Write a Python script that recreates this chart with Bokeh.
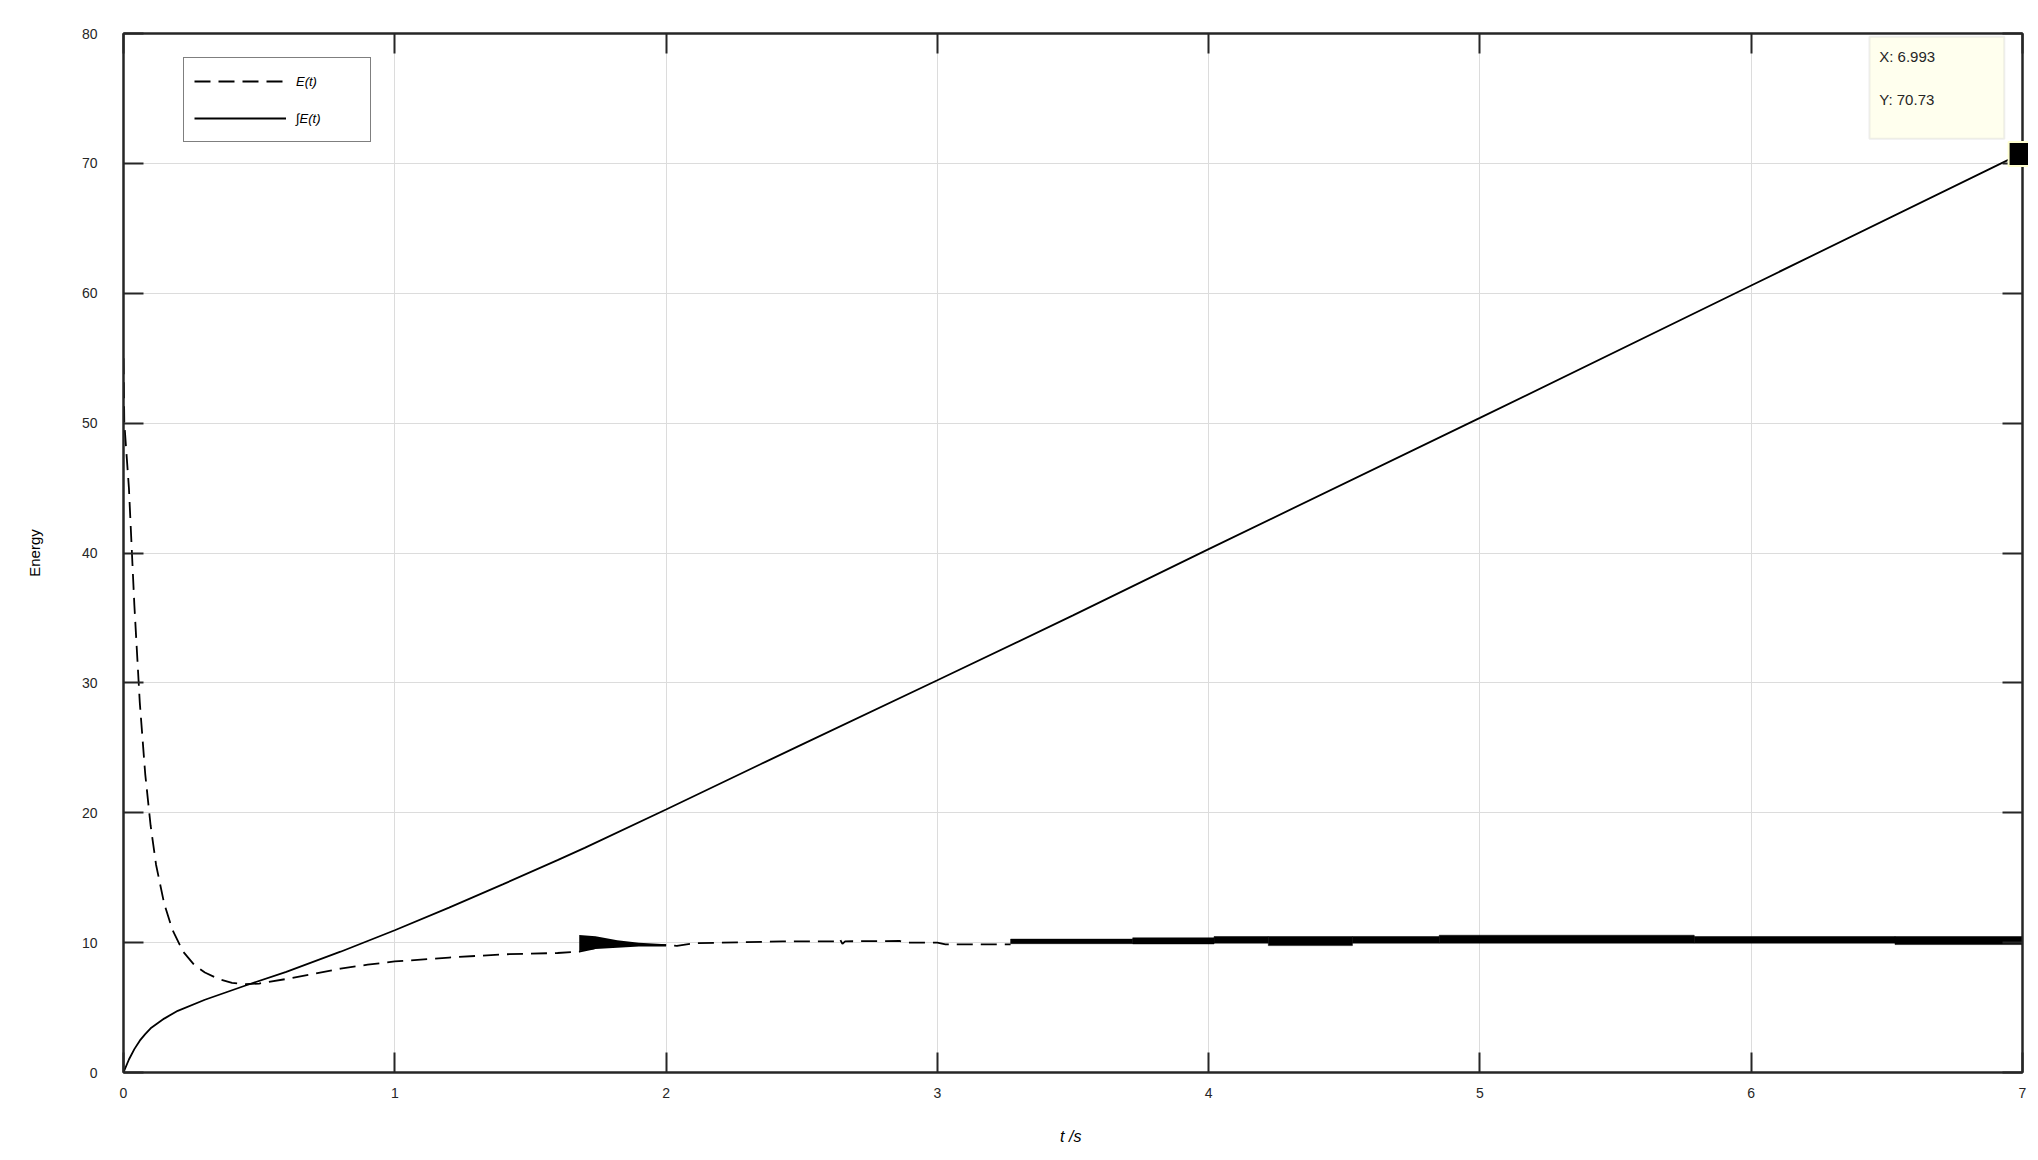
from bokeh.plotting import figure
from bokeh.models import (Range1d, LinearAxis, FixedTicker, Legend, LegendItem,
                          BoxAnnotation, Label)
from bokeh.embed import file_html
from bokeh.resources import INLINE

# ---------------- data ----------------
x_ticks = [0, 1, 2, 3, 4, 5, 6, 7]
y_ticks = [0, 10, 20, 30, 40, 50, 60, 70, 80]

# E(t) (dashed)
e_t = [0, 0.003, 0.02, 0.04, 0.06, 0.08, 0.10, 0.12, 0.15, 0.18, 0.22, 0.26, 0.30,
       0.35, 0.40, 0.45, 0.50, 0.60, 0.70, 0.80, 0.90, 1.0, 1.2, 1.4, 1.6, 1.68,
       1.8, 1.9, 2.0, 2.04, 2.1, 2.43, 2.62, 2.64, 2.65, 2.66, 2.86, 2.89, 3.0,
       3.03, 3.27]
e_val = [55, 50, 45, 36, 28.5, 23, 19, 16, 13, 11, 9.3, 8.3, 7.7,
         7.2, 6.9, 6.8, 6.85, 7.2, 7.6, 8.0, 8.3, 8.55, 8.85, 9.1, 9.2, 9.3,
         9.85, 9.85, 9.8, 9.75, 9.95, 10.1, 10.1, 10.3, 9.9, 10.1, 10.13, 10.0, 10.0,
         9.87, 9.87]

# E(t) oscillation envelope, t = 1.68 .. 2.0
osc_t = [1.68, 1.74, 1.82, 1.90, 2.00]
osc_upper = [10.59, 10.5, 10.18, 10.0, 9.87]
osc_lower = [9.36, 9.5, 9.6, 9.7, 9.7]

# E(t) fast oscillation band, t = 3.27 .. 7
band_start = [3.27, 3.72, 4.02, 4.22, 4.53, 4.85, 5.79, 6.53]
band_end = [3.72, 4.02, 4.22, 4.53, 4.85, 5.79, 6.53, 7.0]
band_upper = [10.27, 10.37, 10.47, 10.47, 10.47, 10.57, 10.47, 10.47]
band_lower = [9.92, 9.9, 9.96, 9.77, 9.96, 9.96, 9.96, 9.85]

# integral of E(t) (solid)
i_t = [0, 0.02, 0.04, 0.06, 0.08, 0.10, 0.15, 0.20, 0.30, 0.45, 0.60, 0.80, 1.0,
       1.2, 1.4, 1.6, 1.7, 2.0, 2.5, 3.0, 3.5, 4.0, 5.0, 6.0, 6.993]
i_val = [0, 1.0, 1.8, 2.45, 2.95, 3.4, 4.15, 4.75, 5.6, 6.7, 7.75, 9.3, 10.95,
         12.7, 14.5, 16.35, 17.3, 20.25, 25.25, 30.2, 35.2, 40.3, 50.4, 60.6, 70.73]

# data tip
tip_x = i_t[-1]
tip_y = i_val[-1]

# ---------------- figure ----------------
FONT = "Liberation Sans"
TXT = "#262626"

p = figure(width=2028, height=1148, output_backend="svg", toolbar_location=None,
           x_range=Range1d(0, 7), y_range=Range1d(0, 80),
           min_border_left=123, min_border_right=6, min_border_top=33,
           min_border_bottom=76, x_axis_label="t  /s", y_axis_label="Energy")
p.background_fill_color = "white"
p.border_fill_color = "white"
p.outline_line_color = TXT
p.outline_line_width = 2


def style_axis(ax, ticks, show_labels):
    ax.ticker = FixedTicker(ticks=ticks, minor_ticks=[])
    ax.axis_line_color = TXT
    ax.axis_line_width = 2
    ax.major_tick_line_color = TXT
    ax.major_tick_line_width = 2
    ax.major_tick_in = 20
    ax.major_tick_out = 0
    ax.minor_tick_line_color = None
    ax.major_label_text_font = FONT
    ax.major_label_text_font_size = "14px"
    ax.major_label_text_color = TXT if show_labels else None
    if not show_labels:
        ax.major_label_text_font_size = "1px"
        ax.major_label_standoff = 0


xa = p.xaxis[0]
ya = p.yaxis[0]
style_axis(xa, x_ticks, True)
style_axis(ya, y_ticks, True)
xa.major_label_standoff = 15
ya.major_label_standoff = 26
xa.axis_label_text_font = FONT
xa.axis_label_text_font_size = "16px"
xa.axis_label_text_font_style = "italic"
xa.axis_label_text_color = "black"
xa.axis_label_standoff = 27
ya.axis_label_text_font = FONT
ya.axis_label_text_font_size = "15px"
ya.axis_label_text_font_style = "normal"
ya.axis_label_text_color = "black"
ya.axis_label_standoff = 36

top_ax = LinearAxis()
right_ax = LinearAxis()
style_axis(top_ax, x_ticks, False)
style_axis(right_ax, y_ticks, False)
p.add_layout(top_ax, "above")
p.add_layout(right_ax, "right")

for g, ticks in ((p.xgrid[0], x_ticks), (p.ygrid[0], y_ticks)):
    g.ticker = FixedTicker(ticks=ticks, minor_ticks=[])
    g.grid_line_color = "#dcdcdc"
    g.grid_line_width = 1

# ---------------- series ----------------
r_e = p.line(e_t, e_val, line_color="black", line_width=1.8, line_dash="16 8")
p.varea(x=osc_t, y1=osc_lower, y2=osc_upper, fill_color="black")
p.quad(left=band_start, right=band_end, top=band_upper, bottom=band_lower,
       fill_color="black", line_color="black", line_width=0.5)
r_i = p.line(i_t, i_val, line_color="black", line_width=1.8)

# ---------------- legend ----------------
legend = Legend(items=[LegendItem(label="E(t)", renderers=[r_e]),
                       LegendItem(label="∫E(t)", renderers=[r_i])],
                location=(60, 930), margin=0, padding=10, spacing=11,
                glyph_width=92, glyph_height=26, label_height=26, label_width=64,
                label_standoff=10)
legend.label_text_font = FONT
legend.label_text_font_size = "13px"
legend.label_text_font_style = "italic"
legend.label_text_color = "black"
legend.border_line_color = "black"
legend.border_line_width = 1.5
legend.background_fill_color = "white"
legend.background_fill_alpha = 1
p.add_layout(legend, "center")

# ---------------- data tip ----------------
p.add_layout(BoxAnnotation(left=6.436, right=6.933, top=79.75, bottom=71.9,
                           fill_color="#ffffee", fill_alpha=1,
                           line_color="#c8c8c8", line_width=2, level="annotation"))
p.add_layout(Label(x=6.472, y=78.2, text="X: %.3f" % tip_x, text_font=FONT,
                   text_font_size="15px", text_color=TXT, text_baseline="middle"))
p.add_layout(Label(x=6.472, y=74.9, text="Y: %.2f" % tip_y, text_font=FONT,
                   text_font_size="15px", text_color=TXT, text_baseline="middle"))
p.scatter([tip_x], [tip_y], marker="square", size=24, fill_color="black",
          line_color="#ffffd0", line_width=2, level="overlay")

open("out.html", "w").write(file_html(p, INLINE))
